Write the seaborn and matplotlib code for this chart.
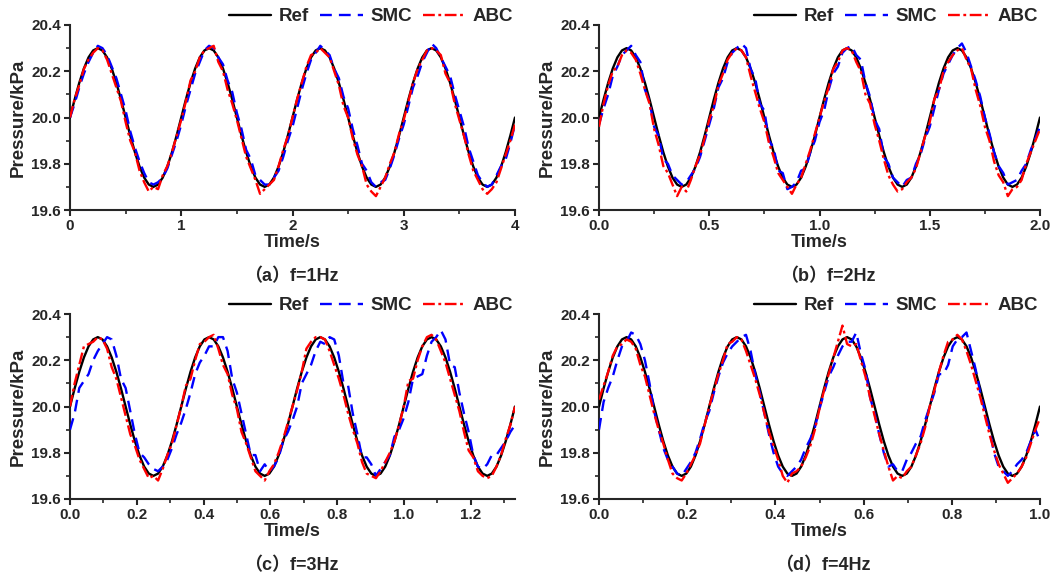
import numpy as np
import pandas as pd
import matplotlib
matplotlib.use("Agg")
import matplotlib.pyplot as plt
import seaborn as sns
from matplotlib.ticker import MultipleLocator, FormatStrFormatter

sns.set_style("ticks")
plt.rcParams['font.family'] = ['Liberation Sans', 'Noto Sans CJK SC']
plt.rcParams['font.weight'] = 'bold'
plt.rcParams['axes.labelweight'] = 'bold'

# ---------------- data ----------------
FREQS = [1, 2, 3, 4]
CAPTIONS = ["（a）f=1Hz", "（b）f=2Hz", "（c）f=3Hz", "（d）f=4Hz"]
XMAX = [4.0, 2.0, 4.0 / 3.0, 1.0]
XMAJOR = [1.0, 0.5, 0.2, 0.2]
XFMT = ['%d', '%.1f', '%.1f', '%.1f']
YTICKS = [19.6, 19.8, 20.0, 20.2, 20.4]
SERIES = ["Ref", "SMC", "ABC"]

# reference curve (same shape over 4 periods in every panel)
REF = [20.000, 20.078, 20.150, 20.212, 20.260, 20.290, 20.300, 20.290, 20.260, 20.212, 20.150, 20.078,
       20.000, 19.922, 19.850, 19.788, 19.740, 19.710, 19.700, 19.710, 19.740, 19.788, 19.850, 19.922,
       20.000, 20.078, 20.150, 20.212, 20.260, 20.290, 20.300, 20.290, 20.260, 20.212, 20.150, 20.078,
       20.000, 19.922, 19.850, 19.788, 19.740, 19.710, 19.700, 19.710, 19.740, 19.788, 19.850, 19.922,
       20.000, 20.078, 20.150, 20.212, 20.260, 20.290, 20.300, 20.290, 20.260, 20.212, 20.150, 20.078,
       20.000, 19.922, 19.850, 19.788, 19.740, 19.710, 19.700, 19.710, 19.740, 19.788, 19.850, 19.922,
       20.000, 20.078, 20.150, 20.212, 20.260, 20.290, 20.300, 20.290, 20.260, 20.212, 20.150, 20.078,
       20.000, 19.922, 19.850, 19.788, 19.740, 19.710, 19.700, 19.710, 19.740, 19.788, 19.850, 19.922,
       20.000]

SMC_A = [20.00, 20.06, 20.13, 20.19, 20.24, 20.28, 20.31, 20.30, 20.27, 20.22, 20.17, 20.10,
         20.03, 19.94, 19.87, 19.81, 19.76, 19.72, 19.71, 19.72, 19.74, 19.78, 19.84, 19.90,
         19.97, 20.05, 20.12, 20.19, 20.24, 20.29, 20.31, 20.30, 20.26, 20.23, 20.16, 20.11,
         20.02, 19.95, 19.86, 19.82, 19.75, 19.73, 19.71, 19.71, 19.74, 19.77, 19.83, 19.90,
         19.96, 20.04, 20.12, 20.19, 20.25, 20.28, 20.31, 20.29, 20.27, 20.21, 20.17, 20.09,
         20.04, 19.95, 19.88, 19.80, 19.77, 19.72, 19.70, 19.72, 19.73, 19.78, 19.84, 19.91,
         19.97, 20.05, 20.13, 20.18, 20.24, 20.28, 20.32, 20.30, 20.26, 20.22, 20.18, 20.10,
         20.03, 19.96, 19.87, 19.81, 19.75, 19.72, 19.70, 19.71, 19.75, 19.79, 19.82, 19.89,
         19.97]
ABC_A = [20.00, 20.08, 20.14, 20.21, 20.25, 20.28, 20.30, 20.29, 20.25, 20.19, 20.13, 20.07,
         19.98, 19.90, 19.85, 19.77, 19.72, 19.68, 19.70, 19.69, 19.75, 19.79, 19.85, 19.92,
         19.99, 20.07, 20.16, 20.20, 20.26, 20.29, 20.30, 20.31, 20.24, 20.20, 20.12, 20.06,
         19.99, 19.91, 19.83, 19.78, 19.73, 19.67, 19.69, 19.71, 19.73, 19.79, 19.86, 19.92,
         20.00, 20.08, 20.15, 20.22, 20.27, 20.28, 20.30, 20.28, 20.26, 20.20, 20.14, 20.05,
         20.00, 19.91, 19.84, 19.79, 19.71, 19.68, 19.66, 19.70, 19.74, 19.80, 19.85, 19.93,
         19.99, 20.07, 20.15, 20.21, 20.25, 20.29, 20.30, 20.29, 20.27, 20.19, 20.15, 20.06,
         19.99, 19.92, 19.84, 19.77, 19.73, 19.69, 19.67, 19.69, 19.72, 19.78, 19.84, 19.90,
         19.97]

SMC_B = [19.97, 20.04, 20.10, 20.18, 20.22, 20.27, 20.29, 20.31, 20.27, 20.24, 20.12, 20.07,
         19.96, 19.92, 19.82, 19.80, 19.75, 19.73, 19.71, 19.72, 19.75, 19.78, 19.83, 19.90,
         19.97, 20.04, 20.13, 20.17, 20.24, 20.28, 20.30, 20.32, 20.30, 20.21, 20.17, 20.06,
         20.03, 19.90, 19.87, 19.77, 19.76, 19.69, 19.70, 19.72, 19.77, 19.78, 19.85, 19.90,
         19.98, 20.03, 20.12, 20.19, 20.22, 20.28, 20.30, 20.31, 20.27, 20.25, 20.15, 20.09,
         19.99, 19.95, 19.83, 19.80, 19.74, 19.72, 19.70, 19.73, 19.74, 19.80, 19.84, 19.91,
         19.96, 20.04, 20.12, 20.19, 20.23, 20.27, 20.30, 20.32, 20.28, 20.22, 20.16, 20.09,
         20.00, 19.93, 19.85, 19.79, 19.76, 19.71, 19.72, 19.73, 19.77, 19.80, 19.86, 19.91,
         19.96]
ABC_B = [19.96, 20.06, 20.14, 20.20, 20.22, 20.27, 20.29, 20.28, 20.25, 20.19, 20.12, 20.06,
         19.95, 19.88, 19.79, 19.76, 19.71, 19.66, 19.70, 19.68, 19.73, 19.79, 19.84, 19.91,
         19.99, 20.05, 20.14, 20.19, 20.25, 20.28, 20.30, 20.29, 20.26, 20.18, 20.11, 20.04,
         19.98, 19.89, 19.83, 19.76, 19.73, 19.70, 19.67, 19.71, 19.74, 19.80, 19.86, 19.93,
         20.00, 20.07, 20.13, 20.21, 20.24, 20.29, 20.30, 20.29, 20.24, 20.20, 20.10, 20.06,
         19.97, 19.90, 19.82, 19.75, 19.71, 19.68, 19.69, 19.72, 19.74, 19.78, 19.85, 19.92,
         19.98, 20.08, 20.12, 20.20, 20.24, 20.27, 20.29, 20.30, 20.25, 20.21, 20.12, 20.05,
         19.96, 19.90, 19.81, 19.75, 19.72, 19.66, 19.69, 19.70, 19.73, 19.80, 19.85, 19.90,
         19.95]

SMC_C = [19.90, 19.97, 20.08, 20.11, 20.14, 20.20, 20.24, 20.27, 20.30, 20.29, 20.22, 20.12,
         20.08, 19.98, 19.88, 19.80, 19.78, 19.75, 19.73, 19.72, 19.74, 19.77, 19.82, 19.88,
         19.93, 19.99, 20.06, 20.14, 20.19, 20.22, 20.26, 20.26, 20.30, 20.30, 20.24, 20.12,
         20.06, 19.97, 19.88, 19.79, 19.79, 19.72, 19.75, 19.72, 19.74, 19.78, 19.85, 19.89,
         19.94, 20.00, 20.10, 20.14, 20.18, 20.24, 20.28, 20.27, 20.30, 20.29, 20.22, 20.10,
         20.09, 19.97, 19.88, 19.78, 19.78, 19.75, 19.70, 19.73, 19.76, 19.79, 19.87, 19.90,
         19.95, 20.02, 20.12, 20.13, 20.14, 20.22, 20.28, 20.30, 20.33, 20.29, 20.18, 20.17,
         20.06, 19.97, 19.89, 19.79, 19.74, 19.73, 19.75, 19.79, 19.79, 19.82, 19.85, 19.89,
         19.92]
ABC_C = [20.00, 20.10, 20.18, 20.26, 20.27, 20.28, 20.30, 20.29, 20.25, 20.17, 20.12, 20.04,
         19.96, 19.88, 19.83, 19.77, 19.73, 19.69, 19.70, 19.68, 19.73, 19.79, 19.84, 19.92,
         20.00, 20.09, 20.12, 20.20, 20.27, 20.28, 20.30, 20.31, 20.25, 20.18, 20.14, 20.05,
         19.99, 19.89, 19.84, 19.78, 19.72, 19.70, 19.68, 19.72, 19.75, 19.80, 19.86, 19.93,
         20.00, 20.07, 20.15, 20.25, 20.28, 20.30, 20.30, 20.29, 20.24, 20.18, 20.12, 20.05,
         19.97, 19.90, 19.84, 19.76, 19.71, 19.70, 19.69, 19.72, 19.76, 19.80, 19.85, 19.92,
         20.00, 20.11, 20.12, 20.20, 20.26, 20.30, 20.31, 20.29, 20.24, 20.19, 20.12, 20.05,
         19.98, 19.89, 19.81, 19.78, 19.72, 19.70, 19.69, 19.70, 19.74, 19.79, 19.86, 19.92,
         20.00]

SMC_D = [19.90, 20.02, 20.08, 20.13, 20.20, 20.26, 20.28, 20.32, 20.31, 20.27, 20.20, 20.10,
         19.98, 19.90, 19.82, 19.77, 19.74, 19.71, 19.70, 19.73, 19.76, 19.80, 19.86, 19.93,
         19.98, 20.06, 20.13, 20.19, 20.23, 20.26, 20.28, 20.30, 20.31, 20.24, 20.14, 20.06,
         19.97, 19.88, 19.80, 19.74, 19.71, 19.70, 19.72, 19.74, 19.77, 19.82, 19.86, 19.91,
         19.99, 20.06, 20.13, 20.17, 20.22, 20.26, 20.28, 20.28, 20.32, 20.23, 20.16, 20.04,
         19.97, 19.88, 19.80, 19.74, 19.75, 19.72, 19.72, 19.77, 19.80, 19.84, 19.87, 19.94,
         20.00, 20.06, 20.14, 20.14, 20.18, 20.26, 20.29, 20.30, 20.32, 20.24, 20.16, 20.06,
         19.98, 19.90, 19.80, 19.74, 19.72, 19.70, 19.72, 19.75, 19.77, 19.80, 19.85, 19.90,
         19.85]
ABC_D = [20.03, 20.09, 20.15, 20.22, 20.26, 20.27, 20.29, 20.28, 20.25, 20.18, 20.13, 20.05,
         19.97, 19.90, 19.84, 19.77, 19.71, 19.69, 19.68, 19.71, 19.75, 19.79, 19.84, 19.92,
         20.00, 20.07, 20.14, 20.20, 20.27, 20.28, 20.30, 20.29, 20.24, 20.18, 20.12, 20.05,
         19.97, 19.89, 19.83, 19.77, 19.70, 19.67, 19.71, 19.72, 19.74, 19.78, 19.83, 19.90,
         19.99, 20.07, 20.14, 20.21, 20.28, 20.35, 20.27, 20.26, 20.27, 20.20, 20.13, 20.04,
         19.96, 19.88, 19.81, 19.74, 19.68, 19.70, 19.69, 19.72, 19.74, 19.79, 19.84, 19.91,
         20.00, 20.07, 20.15, 20.22, 20.28, 20.29, 20.31, 20.29, 20.24, 20.18, 20.11, 20.04,
         19.96, 19.88, 19.81, 19.75, 19.71, 19.67, 19.69, 19.71, 19.74, 19.78, 19.84, 19.90,
         19.95]

SMC_ALL = [SMC_A, SMC_B, SMC_C, SMC_D]
ABC_ALL = [ABC_A, ABC_B, ABC_C, ABC_D]

# ---------------- styling ----------------
COLORS = {"Ref": "#000000", "SMC": "#0000FF", "ABC": "#FF0000"}
DASHES = {"Ref": "-", "SMC": (0, (5, 3)), "ABC": (0, (5, 1.5, 1.2, 1.5))}
LW = {"Ref": 1.7, "SMC": 1.7, "ABC": 1.7}

W, H = 1064, 577
fig = plt.figure(figsize=(W / 100, H / 100), dpi=100)

# axes boxes in pixel coords: left, top, right, bottom
BOXES = [(70, 25, 515, 210), (599, 25, 1040, 210),
         (70, 314, 515, 499), (599, 314, 1040, 499)]
CAP_POS = [(291, 277), (828, 277), (291, 566), (823, 566)]

for i in range(4):
    l, t, r, b = BOXES[i]
    ax = fig.add_axes([l / W, 1 - b / H, (r - l) / W, (b - t) / H])
    n = len(REF)
    time = np.linspace(0, XMAX[i], n)
    df = pd.DataFrame({
        "Time": np.concatenate([time, time, time]),
        "Pressure": np.concatenate([REF, SMC_ALL[i], ABC_ALL[i]]),
        "Series": ["Ref"] * n + ["SMC"] * n + ["ABC"] * n,
    })
    for s in SERIES:
        sub = df[df["Series"] == s]
        sns.lineplot(data=sub, x="Time", y="Pressure", ax=ax, color=COLORS[s],
                     linewidth=LW[s], label=s, sort=False, estimator=None,
                     zorder=3 if s == "Ref" else (4 if s == "SMC" else 5))
        ax.lines[-1].set_linestyle(DASHES[s])

    ax.set_xlim(0, XMAX[i])
    ax.set_ylim(19.6, 20.4)
    ax.set_yticks(YTICKS)
    ax.yaxis.set_major_formatter(FormatStrFormatter('%.1f'))
    ax.yaxis.set_minor_locator(MultipleLocator(0.1))
    ax.xaxis.set_major_locator(MultipleLocator(XMAJOR[i]))
    ax.xaxis.set_minor_locator(MultipleLocator(XMAJOR[i] / 2))
    ax.xaxis.set_major_formatter(FormatStrFormatter(XFMT[i]))
    for sp in ["top", "right"]:
        ax.spines[sp].set_visible(False)
    for sp in ["left", "bottom"]:
        ax.spines[sp].set_linewidth(1.5)
    ax.tick_params(which="major", direction="out", length=4.5, width=1.5,
                   labelsize=11, pad=2)
    ax.tick_params(which="minor", direction="out", length=3, width=1.2)
    for lab in ax.get_xticklabels() + ax.get_yticklabels():
        lab.set_fontweight("bold")
    ax.set_xlabel("Time/s", fontsize=13, fontweight="bold", labelpad=1)
    ax.set_ylabel("Pressure/kPa", fontsize=13.5, fontweight="bold", labelpad=3)

    handles, labels = ax.get_legend_handles_labels()
    for h, s in zip(handles, labels):
        h.set_linestyle(DASHES[s])
    ax.legend(handles, labels, ncol=3, frameon=False, loc="center right",
              bbox_to_anchor=(1.0, 1.045), borderaxespad=0, borderpad=0.1,
              handlelength=2.25, handletextpad=0.4, columnspacing=0.6,
              prop={"weight": "bold", "size": 13.5})

    cx, cy = CAP_POS[i]
    fig.text(cx / W, 1 - cy / H, CAPTIONS[i], ha="center", va="center",
             fontsize=13, fontweight="bold",
             family=["Liberation Sans", "Noto Sans CJK SC"])

fig.savefig("out.png", dpi=100)
